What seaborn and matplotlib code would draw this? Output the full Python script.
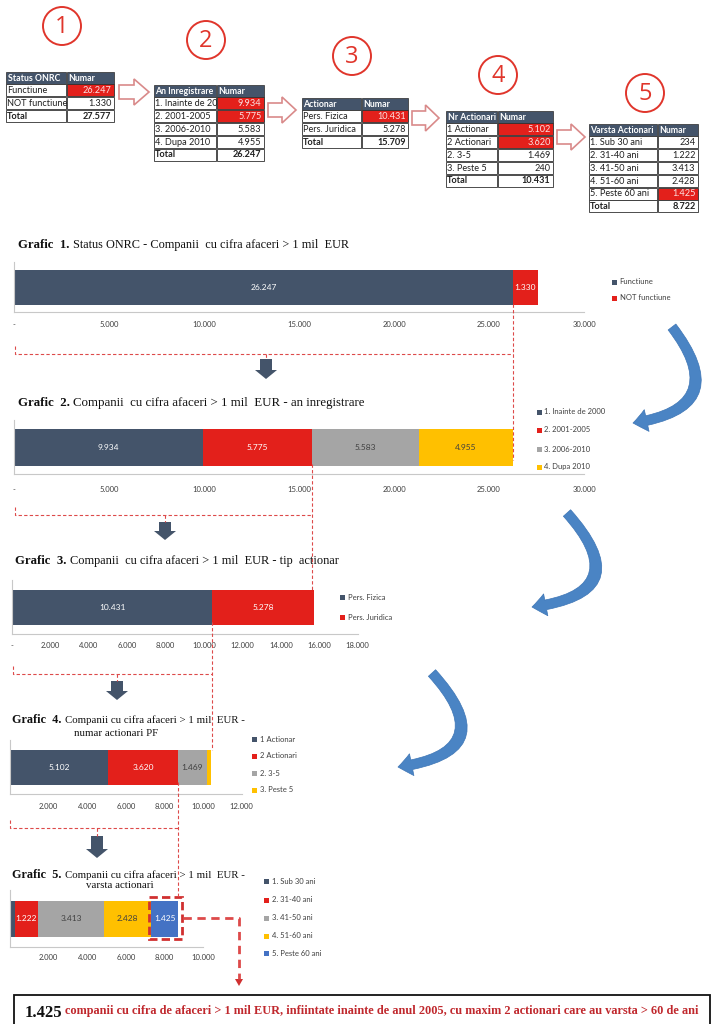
import matplotlib
matplotlib.use("Agg")
import numpy as np
import pandas as pd
import matplotlib.pyplot as plt
import seaborn as sns
from matplotlib.patches import Rectangle, Circle, Polygon, FancyArrowPatch, ArrowStyle
from matplotlib.ticker import FuncFormatter, FixedLocator

# ---------------- data ----------------
status_labels = ["Functiune", "NOT functiune"]
status_values = [26247, 1330]
year_labels = ["1. Inainte de 2000", "2. 2001-2005", "3. 2006-2010", "4. Dupa 2010"]
year_values = [9934, 5775, 5583, 4955]
type_labels = ["Pers. Fizica", "Pers. Juridica"]
type_values = [10431, 5278]
count_labels = ["1 Actionar", "2 Actionari", "2. 3-5", "3. Peste 5"]
count_values = [5102, 3620, 1469, 240]
age_labels = ["1. Sub 30 ani", "2. 31-40 ani", "3. 41-50 ani", "4. 51-60 ani", "5. Peste 60 ani"]
age_values = [234, 1222, 3413, 2428, 1425]

table_headers = [["Status ONRC", "Numar"], ["An Inregistrare", "Numar"], ["Actionar", "Numar"],
                 ["Nr Actionari", "Numar"], ["Varsta Actionari", "Numar"]]
table_highlight = [[0], [0, 1], [0], [0, 1], [4]]

chart_titles = [
    ("Grafic  1.", "Status ONRC - Companii  cu cifra afaceri > 1 mil  EUR", ""),
    ("Grafic  2.", "Companii  cu cifra afaceri > 1 mil  EUR - an inregistrare", ""),
    ("Grafic  3.", "Companii  cu cifra afaceri > 1 mil  EUR - tip  actionar", ""),
    ("Grafic  4.", "Companii cu cifra afaceri > 1 mil  EUR -", "numar actionari PF"),
    ("Grafic  5.", "Companii cu cifra afaceri > 1 mil  EUR -", "varsta actionari"),
]
axis_max = [30000, 30000, 18000, 12000, 10000]
axis_step = [5000, 5000, 2000, 2000, 2000]
zero_label = [True, True, True, False, False]

conclusion_number = "1.425"
conclusion_text = ("companii cu cifra de afaceri > 1 mil EUR, infiintate inainte de anul 2005, "
                   "cu maxim 2 actionari care au varsta > 60 de ani")

NAVY, RED, GRAY, YELLOW, BLUE = "#44546a", "#e3201b", "#a5a5a5", "#ffc000", "#4472c4"
palette = [NAVY, RED, GRAY, YELLOW, BLUE]
label_col = ["white", "white", "#404040", "#404040", "white"]

# ---------------- setup ----------------
sns.set_theme(style="white")
plt.rcParams['font.family'] = ['Lato', 'DejaVu Sans']
SERIF = ['Liberation Serif', 'DejaVu Serif']

W, H = 712, 1024
fig = plt.figure(figsize=(7.12, 10.24), dpi=100)
fig.patch.set_facecolor("white")
ov = fig.add_axes([0, 0, 1, 1], zorder=10)
ov.set_xlim(0, W)
ov.set_ylim(H, 0)
ov.axis("off")
ov.patch.set_alpha(0)


def fmt(v):
    return f"{v:,.0f}".replace(",", ".")


def px_axes(x0, x1, ytop, ybot):
    return fig.add_axes([x0 / W, 1 - ybot / H, (x1 - x0) / W, (ybot - ytop) / H])


# ---------------- tables ----------------
def draw_table(x0, xs, x1, ytop, header, labels, values, hl, hh=12.0, rh=12.8):
    ov.add_patch(Rectangle((x0 + 0.5, ytop), xs - x0 - 1, hh, facecolor=NAVY, edgecolor="#2a2a2a",
                           lw=0.5, zorder=1))
    ov.text(x0 + 2.5, ytop + hh / 2 + 0.3, header[0], color="white", fontsize=6.3, fontweight="bold",
            va="center", ha="left", zorder=2)
    ov.add_patch(Rectangle((xs + 0.5, ytop), x1 - xs - 1, hh, facecolor=NAVY, edgecolor="#2a2a2a",
                           lw=0.5, zorder=4))
    ov.text(xs + 2.5, ytop + hh / 2 + 0.3, header[1], color="white", fontsize=6.3, fontweight="bold",
            va="center", ha="left", zorder=5)
    rows = [(l, fmt(v)) for l, v in zip(labels, values)] + [("Total", fmt(sum(values)))]
    for i, (lab, num) in enumerate(rows):
        y = ytop + hh + i * rh
        total = lab == "Total"
        ov.add_patch(Rectangle((x0 + 0.5, y + 0.4), xs - x0 - 1, rh - 0.8, facecolor="white",
                               edgecolor="#303030", lw=0.6, zorder=1))
        hlc = (i in hl)
        ov.add_patch(Rectangle((xs + 0.5, y + 0.4), x1 - xs - 1, rh - 0.8,
                               facecolor=RED if hlc else "white", edgecolor="#303030", lw=0.6, zorder=4))
        ov.text(x0 + 2, y + rh / 2 + 0.3, lab, fontsize=6.6, va="center", ha="left", color="#202020",
                fontweight="bold" if total else "normal", zorder=2)
        ov.text(x1 - 2.5, y + rh / 2 + 0.3, num, fontsize=6.6, va="center", ha="right",
                color="#fbe3e3" if hlc else "#202020", fontweight="bold" if total else "normal", zorder=5)


all_labels = [status_labels, year_labels, type_labels, count_labels, age_labels]
all_values = [status_values, year_values, type_values, count_values, age_values]
table_geo = [(5, 66, 114, 72), (153, 216, 264, 85), (301, 361, 408, 98), (445, 497, 553, 111), (588, 657, 698, 124)]
circles = [(62, 26), (206, 40), (352, 56), (498, 75), (645, 93)]
for k in range(5):
    x0, xs, x1, yt = table_geo[k]
    draw_table(x0, xs, x1, yt, table_headers[k], all_labels[k], all_values[k], table_highlight[k])
    cx, cy = circles[k]
    ov.add_patch(Circle((cx, cy), 19, facecolor="none", edgecolor="#e0352b", lw=1.4))
    ov.text(cx, cy + 1, str(k + 1), color="#e0352b", fontsize=17, ha="center", va="center",
            family=["Open Sans", "DejaVu Sans"], fontweight="normal")

# hollow arrows between tables
for (xa, xb, yc) in [(119, 149, 92), (268, 296, 110), (412, 439, 118), (557, 585, 137)]:
    xh = xa + (xb - xa) * 0.5
    pts = [(xa, yc - 7), (xh, yc - 7), (xh, yc - 13), (xb, yc), (xh, yc + 13), (xh, yc + 7), (xa, yc + 7)]
    ov.add_patch(Polygon(pts, closed=True, facecolor="white", edgecolor="#d98a8a", lw=1.2))


# ---------------- charts ----------------
def stacked_chart(k, x0, ytop, ybot, scale, bar_px, pad):
    labels, values = all_labels[k], all_values[k]
    xmax = axis_max[k]
    ax = px_axes(x0, x0 + xmax * scale, ytop, ybot)
    ax.set_facecolor("none")
    df = pd.DataFrame({"cat": labels, "val": values, "row": ["r"] * len(values)})
    df["left"] = df["val"].cumsum() - df["val"]
    width = bar_px / (ybot - ytop)
    for i in range(len(df)):
        sub = df.iloc[[i]]
        sns.barplot(data=sub, x="val", y="row", orient="h", color=palette[i], saturation=1,
                    width=width, left=float(sub["left"].iloc[0]), errorbar=None, ax=ax, linewidth=0)
        if values[i] > 500:
            ax.bar_label(ax.containers[-1], labels=[fmt(values[i])], label_type="center",
                         color=label_col[i], fontsize=6)
    ax.set_xlim(0, xmax)
    ax.set_ylim(0.5, -0.5)
    ax.set_xlabel("")
    ax.set_ylabel("")
    ax.set_yticks([])
    ticks = list(range(0 if zero_label[k] else axis_step[k], xmax + 1, axis_step[k]))
    ax.xaxis.set_major_locator(FixedLocator(ticks))
    ax.xaxis.set_major_formatter(FuncFormatter(lambda v, p: "-" if v == 0 else fmt(v)))
    ax.tick_params(axis="x", length=0, pad=pad, labelsize=5.5, labelcolor="#404040")
    for s in ["top", "right"]:
        ax.spines[s].set_visible(False)
    for s in ["left", "bottom"]:
        ax.spines[s].set_color("#c8c8c8")
        ax.spines[s].set_linewidth(0.8)
    return ax


S = 0.0190
ax1 = stacked_chart(0, 14, 262, 312, S, 35, 6.5)
ax2 = stacked_chart(1, 14, 420, 474, S, 37, 8.5)
ax3 = stacked_chart(2, 12, 580, 634, 0.0192, 35, 6)
ax4 = stacked_chart(3, 10, 740, 794, 0.0193, 35, 6.5)
ax5 = stacked_chart(4, 10, 890, 947, 0.0193, 36, 5)
axes = [ax1, ax2, ax3, ax4, ax5]


def xpix(ax, v):
    return ov.transData.inverted().transform(ax.transData.transform((v, 0)))[0]


# titles
title_pos = [(18, 245), (18, 403), (15, 561), (12, 720), (12, 875)]
title_bold = [9.2, 9.3, 9.2, 8.8, 8.8]
title_size = [8.8, 9.3, 8.9, 7.8, 7.8]
second_pos = [None, None, None, (116, 733), (120, 886)]
for k in range(5):
    bx, by = title_pos[k]
    b, rest, l2 = chart_titles[k]
    tb = ov.text(bx, by, b, fontsize=title_bold[k], fontweight="bold", family=SERIF, va="center",
                 ha="left", color="#111111")
    ov.annotate(rest, xy=(1, 0.5), xycoords=tb, xytext=(2.5, 0), textcoords="offset points",
                fontsize=title_size[k], family=SERIF, va="center", ha="left", color="#111111")
    if l2:
        ov.text(second_pos[k][0], second_pos[k][1], l2, fontsize=title_size[k], family=SERIF,
                va="center", ha="center", color="#111111")

# legends
legend_pos = [(612, [282, 298]), (537, [412, 430, 449, 467]), (340, [597, 617]),
              (252, [739, 756, 773, 790]), (264, [881, 900, 918, 936, 953])]
for k in range(5):
    lx, lys = legend_pos[k]
    for i, ly in enumerate(lys):
        ov.add_patch(Rectangle((lx, ly - 2.5), 5, 5, facecolor=palette[i], edgecolor="none"))
        ov.text(lx + 7.5, ly, all_labels[k][i], fontsize=5.5, va="center", ha="left", color="#404040")

# dashed connectors
DC = "#dd4a4a"
DS = (0, (3, 2))


def dline(xs, ys, lw=0.8, ls=DS):
    ov.plot(xs, ys, color=DC, lw=lw, linestyle=ls, solid_capstyle="butt")


def block_arrow(xc, yt, yb):
    hh = 9
    pts = [(xc - 6, yt), (xc + 6, yt), (xc + 6, yb - hh), (xc + 11, yb - hh), (xc, yb),
           (xc - 11, yb - hh), (xc - 6, yb - hh)]
    ov.add_patch(Polygon(pts, closed=True, facecolor=NAVY, edgecolor="none"))


# 1 -> 2
xa = xpix(ax1, status_values[0])
dline([15, 15, xa], [346, 354, 354])
dline([xa, xa], [304, 460])
dline([266, 266], [354, 359])
block_arrow(266, 359, 379)
# 2 -> 3
xb = xpix(ax2, sum(year_values[:2]))
dline([15, 15, xb], [507, 515, 515])
dline([xb, xb], [464, 592])
dline([165, 165], [515, 522])
block_arrow(165, 522, 540)
# 3 -> 4
xc = xpix(ax3, type_values[0])
dline([13, 13, xc], [666, 674, 674])
dline([xc, xc], [622, 750])
dline([117, 117], [674, 681])
block_arrow(117, 681, 700)
# 4 -> 5
xd = xpix(ax4, sum(count_values[:2]))
dline([10, 10, xd], [820, 828, 828])
dline([xd, xd], [782, 897])
dline([97, 97], [828, 836])
block_arrow(97, 836, 858)

# highlighted box on last segment
xs5 = xpix(ax5, sum(age_values[:4]))
xe5 = xpix(ax5, sum(age_values))
ov.add_patch(Rectangle((xs5 - 2, 897), xe5 - xs5 + 6, 42, facecolor="none", edgecolor="#d03030",
                       lw=2, linestyle=(0, (3, 1.5))))
dline([xe5 + 5, 239, 239], [918, 918, 979], lw=2, ls=(0, (3, 2)))
ov.add_patch(Polygon([(235, 979), (243, 979), (239, 986)], closed=True, facecolor="#d03030",
                     edgecolor="none"))

# curved blue arrows
for (a, b, rad) in [((672, 327), (633, 423), -0.85), ((567, 513), (532, 607), -0.95),
                    ((432, 673), (398, 767), -0.95)]:
    p = FancyArrowPatch(a, b, connectionstyle=f"arc3,rad={rad}",
                        arrowstyle=ArrowStyle.Simple(head_length=10, head_width=16, tail_width=7),
                        facecolor="#4a84c4", edgecolor="#3d75b5", lw=0.5, shrinkA=0, shrinkB=0,
                        mutation_scale=1)
    ov.add_patch(p)

# conclusion box
ov.add_patch(Rectangle((14, 995), 696, 40, facecolor="white", edgecolor="#111111", lw=1.3))
tn = ov.text(25, 1017, conclusion_number, fontsize=12, fontweight="bold", family=SERIF,
             ha="left", va="baseline", color="#111111")
ov.annotate(conclusion_text, xy=(1, 0), xycoords=tn, xytext=(2, 3.0), textcoords="offset points",
            fontsize=8.8, fontweight="bold", family=SERIF, ha="left", va="bottom", color="#c0282d")

fig.savefig("out.png", dpi=100, facecolor="white")
